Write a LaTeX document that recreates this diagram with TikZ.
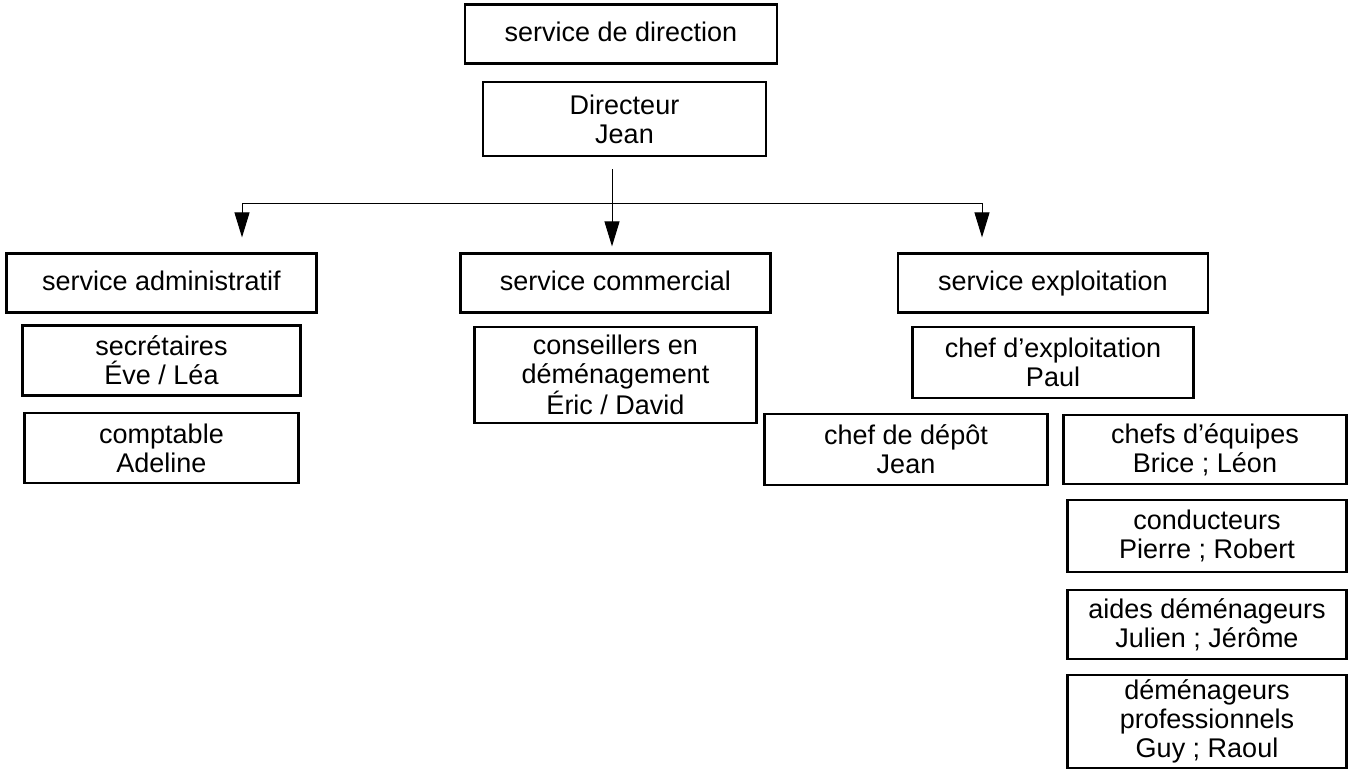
\documentclass[tikz,border=0pt]{standalone}
\usepackage{fontspec}
\setmainfont{Liberation Sans}
\usetikzlibrary{positioning,arrows.meta}

\begin{document}
\begin{tikzpicture}[node distance=42.5pt,
    box/.style={draw, line width=1.1pt, align=center, inner sep=2pt, font=\fontsize{13.5pt}{14.5pt}\selectfont},
    svc/.style={box, minimum width=155pt, minimum height=29.5pt, text height=10pt, text depth=3pt},
    staff/.style={box, minimum width=140pt, minimum height=35pt},
    arr/.style={-{Triangle[length=12.5pt,width=7.5pt]}, line width=0.5pt}]
      \useasboundingbox (0,0) rectangle (674pt,-384pt);
      \node (direction) [svc, minimum width=156pt] at (310.5pt,-17pt) {service de direction};
      \node (directeur) [staff, minimum width=141.5pt, minimum height=37pt, below of=direction, xshift=1.75pt] {Directeur\\Jean};

      \node (commercial) [svc] at (307.75pt,-141.5pt) {service commercial};
      \node (admin) [svc, left of=commercial, node distance=227pt] {service administratif};
      \node (exploitation) [svc, right of=commercial, node distance=218.75pt] {service exploitation};

      \node (secretaires) [staff, minimum width=139pt, below of=admin, node distance=38.75pt] {secrétaires\\Éve / Léa};
      \node (comptable) [staff, minimum width=137pt, below of=secretaires, node distance=43.75pt] {comptable\\Adeline};
      \node (conseillers) [staff, minimum width=141pt, minimum height=48pt, below of=commercial, node distance=46pt] {conseillers en\\déménagement\\Éric / David};

      \node (chefexpl) [staff, minimum width=140.5pt, minimum height=35.5pt, below of=exploitation, node distance=39.75pt] {chef d’exploitation\\Paul};
      \node (depot) [staff, minimum width=141.5pt, minimum height=35.5pt, below of=chefexpl, node distance=43.5pt, xshift=-73.5pt] {chef de dépôt\\Jean};
      \node (equipes) [staff, minimum width=141.5pt, minimum height=34.5pt, right of=depot, node distance=149.5pt] {chefs d’équipes\\Brice ; Léon};
      \node (conducteurs) [staff, minimum width=139.5pt, minimum height=36pt, below of=equipes, node distance=43.25pt, xshift=1pt] {conducteurs\\Pierre ; Robert};
      \node (aides) [staff, minimum width=139.5pt, minimum height=34.5pt, below of=conducteurs, node distance=44.25pt] {aides déménageurs\\Julien ; Jérôme};
      \node (demenageurs) [staff, minimum width=139.5pt, minimum height=46.5pt, below of=aides, node distance=48.5pt] {déménageurs\\professionnels\\Guy ; Raoul};

      \coordinate (fork) at (306pt,-101.5pt);
      \coordinate (forkL) at (121pt,-101.5pt);
      \coordinate (forkR) at (491pt,-101.5pt);

      \draw[line width=0.5pt] (forkL) -- (forkR);
      \draw[arr, shorten <=6pt, shorten >=3pt] (directeur.south -| fork) -- (commercial.north -| fork);
      \draw[arr, shorten >=7.5pt] (forkL) -- (forkL |- admin.north);
      \draw[arr, shorten >=7.5pt] (forkR) -- (forkR |- exploitation.north);
    \end{tikzpicture}
\end{document}
